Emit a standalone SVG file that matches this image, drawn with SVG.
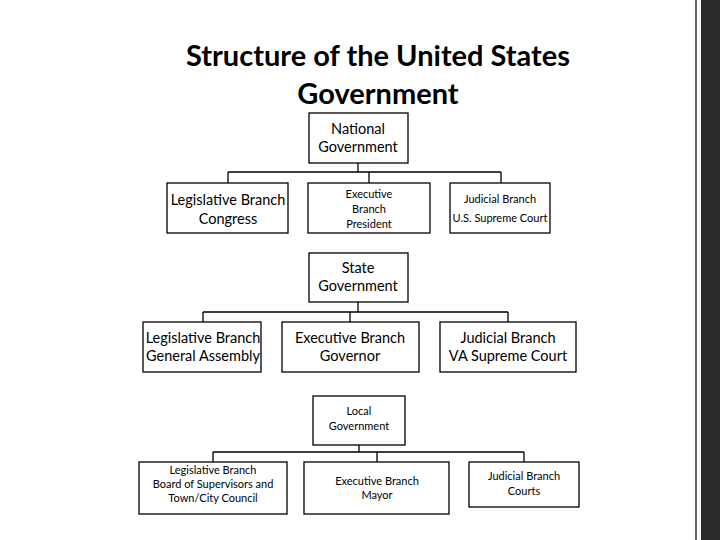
<svg xmlns="http://www.w3.org/2000/svg" width="720" height="540" viewBox="0 0 720 540">
<style>
.b{fill:#fff;stroke:#000;stroke-width:1.3}
.c{fill:none;stroke:#000;stroke-width:1.3}
text{font-family:Lato,"Open Sans",sans-serif;fill:#000;text-anchor:middle}
.t{font-size:29px;font-weight:bold}
.l{font-size:14.5px}
.s{font-size:11px}
.m{font-size:12px}
</style>
<rect width="720" height="540" fill="#fff"/>
<rect x="695" y="0" width="2" height="540" fill="#666"/>
<rect x="701" y="0" width="19" height="540" fill="#2a2a2a"/>
<text class="t" x="378" y="66">Structure of the United States</text>
<text class="t" x="378" y="104">Government</text>
<g id="connectors">
<path class="c" d="M358 163V172M228 172H501M228 172V183M369 172V183M501 172V183"/>
<path class="c" d="M358 302V312M203 312H508M203 312V322M350 312V322M508 312V322"/>
<path class="c" d="M359 445V452M213 452H524M213 452V462M377 452V462M524 452V462"/>
</g>
<g id="national"><rect class="b" x="309" y="113" width="99" height="50"/><text class="l" x="358" y="134">National</text><text class="l" x="358" y="152">Government</text></g>
<g id="n-leg"><rect class="b" x="167" y="183" width="121" height="50"/><text class="l" x="228" y="205">Legislative Branch</text><text class="l" x="228" y="224">Congress</text></g>
<g id="n-exe"><rect class="b" x="308" y="183" width="122" height="50"/><text class="s" x="369" y="198">Executive</text><text class="s" x="369" y="213">Branch</text><text class="s" x="369" y="228">President</text></g>
<g id="n-jud"><rect class="b" x="450" y="183" width="100" height="50"/><text class="s" x="500" y="203">Judicial Branch</text><text class="s" x="500" y="222">U.S. Supreme Court</text></g>
<g id="state"><rect class="b" x="309" y="253" width="99" height="49"/><text class="l" x="358" y="273">State</text><text class="l" x="358" y="291">Government</text></g>
<g id="s-leg"><rect class="b" x="143" y="322" width="118" height="50"/><text class="l" x="203" y="343">Legislative Branch</text><text class="l" x="203" y="361">General Assembly</text></g>
<g id="s-exe"><rect class="b" x="282" y="322" width="137" height="50"/><text class="l" x="350" y="343">Executive Branch</text><text class="l" x="350" y="361">Governor</text></g>
<g id="s-jud"><rect class="b" x="440" y="322" width="136" height="50"/><text class="l" x="508" y="343">Judicial Branch</text><text class="l" x="508" y="361">VA Supreme Court</text></g>
<g id="local"><rect class="b" x="313" y="396" width="92" height="49"/><text class="s" x="359" y="415">Local</text><text class="s" x="359" y="430">Government</text></g>
<g id="l-leg"><rect class="b" x="139" y="462" width="148" height="52"/><text class="s" x="213" y="474">Legislative Branch</text><text class="s" x="213" y="488">Board of Supervisors and</text><text class="s" x="213" y="502">Town/City Council</text></g>
<g id="l-exe"><rect class="b" x="304" y="462" width="145" height="52"/><text class="s" x="377" y="485">Executive Branch</text><text class="s" x="377" y="499">Mayor</text></g>
<g id="l-jud"><rect class="b" x="469" y="462" width="110" height="45"/><text class="s" x="524" y="480">Judicial Branch</text><text class="s" x="524" y="495">Courts</text></g>
</svg>
